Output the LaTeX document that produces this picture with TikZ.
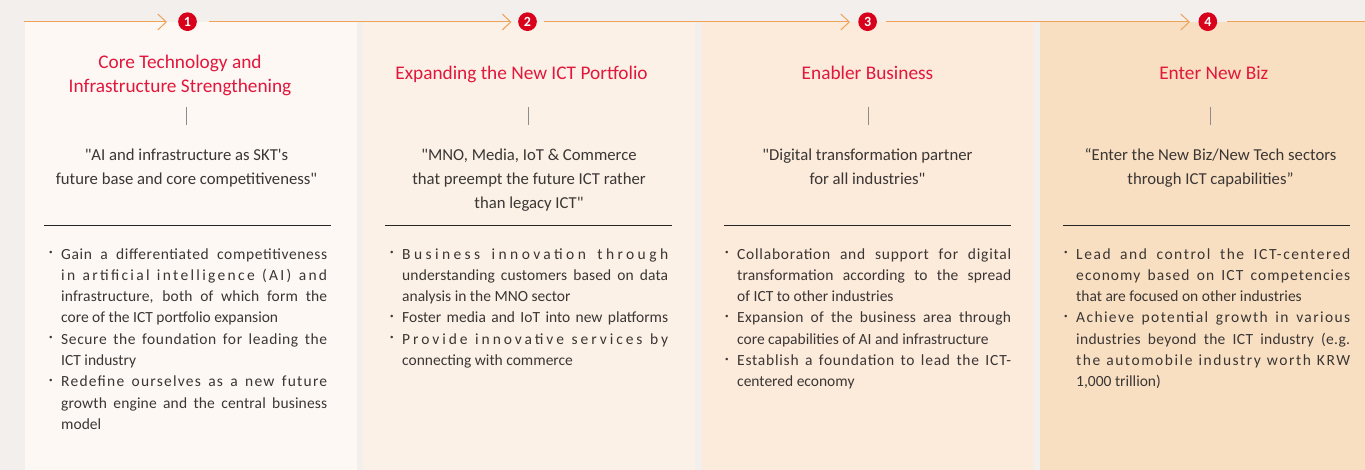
\documentclass[tikz,border=0pt]{standalone}
\usepackage{fontspec}
\setmainfont{Carlito}
\usetikzlibrary{arrows.meta}
\definecolor{bgc}{HTML}{F2EFEC}
\definecolor{pa}{HTML}{FDF8F4}
\definecolor{pb}{HTML}{FCF1E7}
\definecolor{pc}{HTML}{FCEADB}
\definecolor{pd}{HTML}{F9DFC2}
\definecolor{lineor}{HTML}{EFA257}
\definecolor{titred}{HTML}{E2173C}
\definecolor{numred}{HTML}{D9001C}
\definecolor{txt}{HTML}{3A3634}
\definecolor{tickc}{HTML}{8C8C8C}
\newlength\cw
\newcommand\J[1]{\makebox[\cw][s]{#1}}
\newcommand\JS[2]{\makebox[\cw][s]{\addfontfeature{LetterSpace=#1}#2}}
\newcommand\Ln[1]{\makebox[\cw][l]{#1}}
\newcommand\Bu{\llap{\raisebox{4.5pt}{\fontsize{7}{7}\selectfont\textbullet}\hspace{8.5pt}}}
\newcommand\dq{\textquotedbl}
\newcommand\sq{\textquotesingle}
\begin{document}
\begin{tikzpicture}[x=1pt,y=-1pt,
  oline/.style={draw=lineor, line width=1pt},
  chev/.style={-{Straight Barb[length=8.5pt,width=16pt,line width=1pt]}},
  num/.style={circle, fill=numred, text=white, inner sep=0pt, minimum size=18.7pt, font=\fontsize{14}{14}\selectfont\bfseries},
  title/.style={text=titred, font=\fontsize{19.3}{23.7}\selectfont, align=center, inner sep=0pt},
  quote/.style={text=txt, font=\fontsize{16.7}{23.8}\selectfont, align=center, inner sep=0pt},
  body/.style={text=txt, font=\fontsize{15.5}{21.3}\selectfont, align=left, inner sep=0pt},
  rulel/.style={draw=black!85, line width=0.9pt},
  tick/.style={draw=tickc, line width=0.8pt}]
\useasboundingbox (0,0) rectangle (1365,470);
\fill[bgc] (0,0) rectangle (1365,470);
% panels
\fill[pa] (25,22) rectangle (357,470);
\fill[pb] (363,22) rectangle (695,470);
\fill[pc] (702,22) rectangle (1033,470);
\fill[pd] (1040,22) rectangle (1365,470);
% top line with numbers
\coordinate (s0) at (24,22);
\coordinate (t1) at (167,22);
\coordinate (r1) at (209,22);
\coordinate (t2) at (511.5,22);
\coordinate (r2) at (544,22);
\coordinate (t3) at (850,22);
\coordinate (r3) at (886,22);
\coordinate (t4) at (1190,22);
\coordinate (r4) at (1227,22);
\coordinate (e0) at (1365,22);
\fill[bgc] (168,12) rectangle (209,22);
\fill[bgc] (512,12) rectangle (544,22);
\fill[bgc] (851,12) rectangle (886,22);
\fill[bgc] (1191,12) rectangle (1227,22);
\draw[oline, chev] (s0) -- (t1);
\draw[oline, chev] (r1) -- (t2);
\draw[oline, chev] (r2) -- (t3);
\draw[oline, chev] (r3) -- (t4);
\draw[oline] (r4) -- (e0);
\node[num] (n1) at (187.5,21.7) {1};
\node[num] (n2) at (527.5,21.7) {2};
\node[num] (n3) at (867.6,21.7) {3};
\node[num] (n4) at (1207.8,21.7) {4};
% titles (base anchor = baseline of last line)
\node[title, anchor=base] (h1) at (180,92.7) {Core Technology and\\Infrastructure Strengthening};
\node[title, anchor=base] (h2) at (521.5,79.3) {Expanding the New ICT Portfolio};
\node[title, anchor=base] (h3) at (867.5,79.3) {Enabler Business};
\node[title, anchor=base] (h4) at (1213.8,79.3) {Enter New Biz};
% ticks
\draw[tick] (186.5,107) -- (186.5,125);
\draw[tick] (528,107) -- (528,125);
\draw[tick] (868,107) -- (868,125);
\draw[tick] (1210,107) -- (1210,125);
% quotes
\node[quote, anchor=base] (q1) at (186.5,184.8) {\dq AI and infrastructure as SKT\sq s\\future base and core competitiveness\dq};
\node[quote, anchor=base] (q2) at (529,208.6) {\dq MNO, Media, IoT \& Commerce\\that preempt the future ICT rather\\than legacy ICT\dq};
\node[quote, anchor=base] (q3) at (867.5,184.8) {\dq Digital transformation partner\\for all industries\dq};
\node[quote, anchor=base] (q4) at (1210.5,184.8) {“Enter the New Biz/New Tech sectors\\through ICT capabilities”};
% rules
\draw[rulel] (44,225) -- (331,225);
\draw[rulel] (385,225) -- (672,225);
\draw[rulel] (724,225) -- (1011,225);
\draw[rulel] (1063,225) -- (1350,225);
% bullets
\setlength\cw{266pt}
\node[body, anchor=base west] (b1) at (61,429.4) {%
\Bu\JS{4}{Gain a differentiated competitiveness}\\
\JS{15}{in artificial intelligence (AI) and}\\
\JS{1}{infrastructure, both of which form the}\\
\Ln{core of the ICT portfolio expansion}\\
\Bu\JS{4}{Secure the foundation for leading the}\\
\Ln{ICT industry}\\
\Bu\JS{8}{Redefine ourselves as a new future}\\
\JS{1}{growth engine and the central business}\\
\Ln{model}};
\node[body, anchor=base west] (b2) at (402,365.5) {%
\Bu\JS{22}{Business innovation through}\\
\JS{1}{understanding customers based on data}\\
\Ln{analysis in the MNO sector}\\
\Bu\J{Foster media and IoT into new platforms}\\
\Bu\JS{19}{Provide innovative services by}\\
\Ln{connecting with commerce}};
\setlength\cw{274pt}
\node[body, anchor=base west] (b3) at (737,386.8) {%
\Bu\JS{5}{Collaboration and support for digital}\\
\JS{1}{transformation according to the spread}\\
\Ln{of ICT to other industries}\\
\Bu\JS{2}{Expansion of the business area through}\\
\Ln{core capabilities of AI and infrastructure}\\
\Bu\JS{5}{Establish a foundation to lead the ICT-}\\
\Ln{centered economy}};
\node[body, anchor=base west] (b4) at (1076,386.8) {%
\Bu\JS{10}{Lead and control the ICT-centered}\\
\JS{7}{economy based on ICT competencies}\\
\Ln{that are focused on other industries}\\
\Bu\JS{9}{Achieve potential growth in various}\\
\JS{2}{industries beyond the ICT industry (e.g.}\\
\JS{10}{the automobile industry worth KRW}\\
\Ln{1,000 trillion)}};
\end{tikzpicture}
\end{document}
